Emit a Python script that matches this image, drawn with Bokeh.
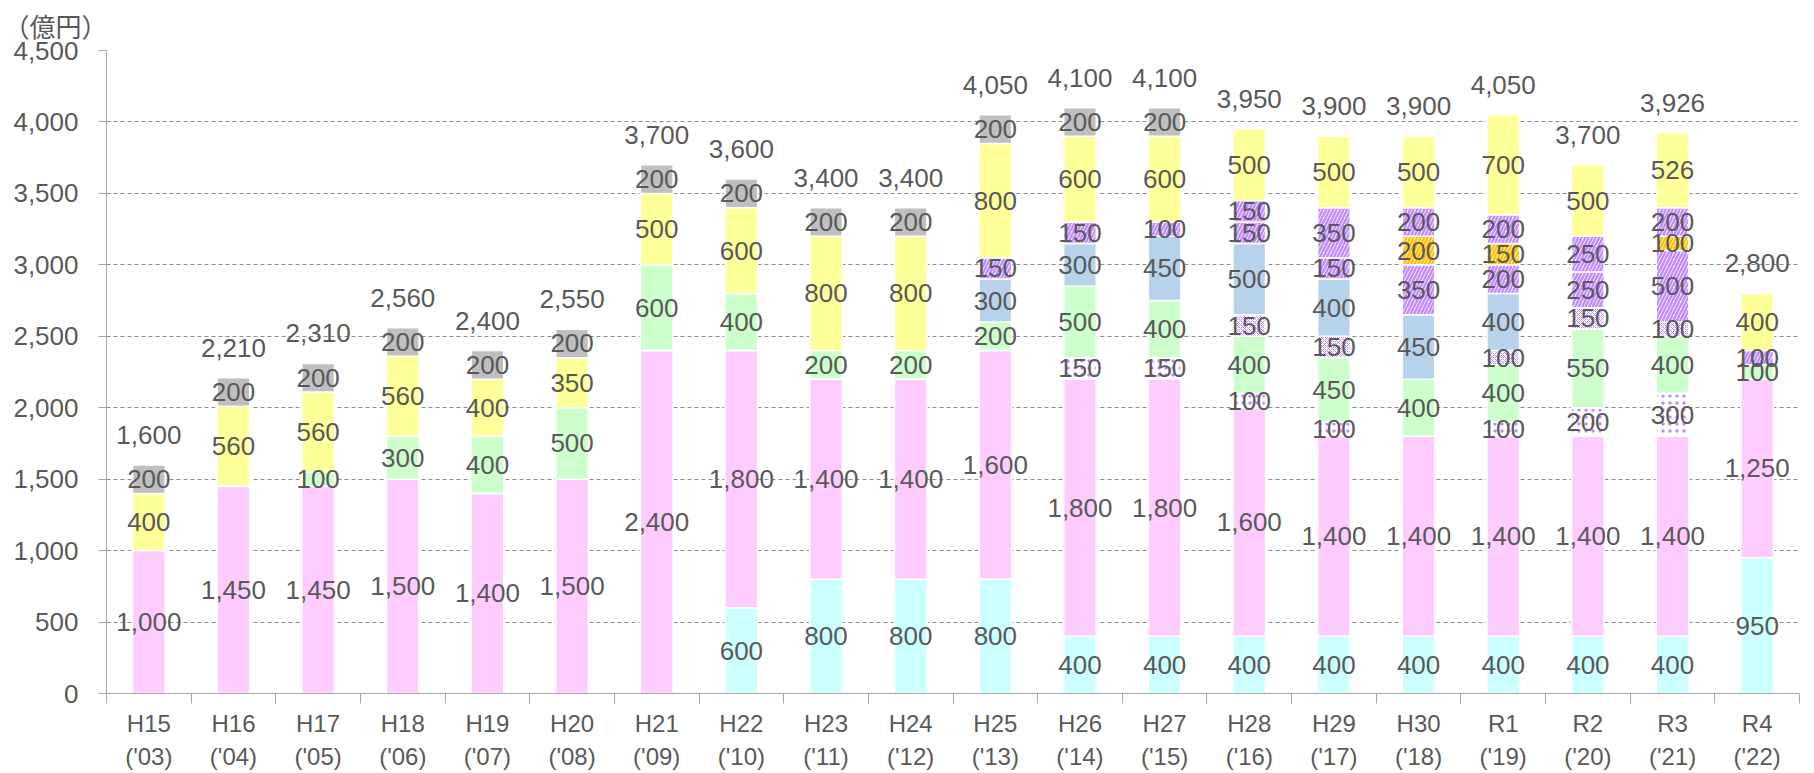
import numpy as np
from bokeh.plotting import figure
from bokeh.models import ColumnDataSource, Range1d, FixedTicker, NumeralTickFormatter, LabelSet
from bokeh.core.properties import value
from bokeh.embed import file_html
from bokeh.resources import INLINE

# ---------------- data ----------------
eras = ["H15", "H16", "H17", "H18", "H19", "H20", "H21", "H22", "H23", "H24",
        "H25", "H26", "H27", "H28", "H29", "H30", "R1", "R2", "R3", "R4"]
years = ["'03", "'04", "'05", "'06", "'07", "'08", "'09", "'10", "'11", "'12",
         "'13", "'14", "'15", "'16", "'17", "'18", "'19", "'20", "'21", "'22"]

cyan    = [0, 0, 0, 0, 0, 0, 0, 600, 800, 800, 800, 400, 400, 400, 400, 400, 400, 400, 400, 950]
pink    = [1000, 1450, 1450, 1500, 1400, 1500, 2400, 1800, 1400, 1400, 1600, 1800, 1800, 1600, 1400, 1400, 1400, 1400, 1400, 1250]
dots    = [0, 0, 0, 0, 0, 0, 0, 0, 0, 0, 0, 150, 150, 100, 100, 0, 100, 200, 300, 0]
green   = [0, 0, 100, 300, 400, 500, 600, 400, 200, 200, 200, 500, 400, 400, 450, 400, 400, 550, 400, 100]
checker = [0, 0, 0, 0, 0, 0, 0, 0, 0, 0, 0, 0, 0, 150, 150, 0, 100, 150, 100, 0]
blue    = [0, 0, 0, 0, 0, 0, 0, 0, 0, 0, 300, 300, 450, 500, 400, 450, 400, 0, 0, 0]
stripeA = [0, 0, 0, 0, 0, 0, 0, 0, 0, 0, 150, 150, 100, 150, 150, 350, 200, 250, 500, 100]
orange  = [0, 0, 0, 0, 0, 0, 0, 0, 0, 0, 0, 0, 0, 0, 0, 200, 150, 0, 100, 0]
stripeB = [0, 0, 0, 0, 0, 0, 0, 0, 0, 0, 0, 0, 0, 150, 350, 200, 200, 250, 200, 0]
yellow  = [400, 560, 560, 560, 400, 350, 500, 600, 800, 800, 800, 600, 600, 500, 500, 500, 700, 500, 526, 400]
gray    = [200, 200, 200, 200, 200, 200, 200, 200, 200, 200, 200, 200, 200, 0, 0, 0, 0, 0, 0, 0]

y_ticks = [0, 500, 1000, 1500, 2000, 2500, 3000, 3500, 4000, 4500]
unit_label = "（億円）"

# ---------------- styles ----------------
TXT = "#595959"
FONT = "Liberation Sans"
FS = "26px"
PURPLE = "#C38BFF"
AXC = "#A6A6A6"

series = [
    (cyan,    dict(fill_color="#CCFFFF")),
    (pink,    dict(fill_color="#FFCCFF")),
    (dots,    dict(fill_color="white", hatch_pattern="dot", hatch_color=PURPLE, hatch_scale=7, hatch_weight=1)),
    (green,   dict(fill_color="#CCFFCC")),
    (checker, dict(fill_color="white", hatch_pattern="x", hatch_color=PURPLE, hatch_scale=4, hatch_weight=1)),
    (blue,    dict(fill_color="#B7D2EB")),
    (stripeA, dict(fill_color="white", hatch_pattern="/", hatch_color=PURPLE, hatch_scale=7, hatch_weight=2.5)),
    (orange,  dict(fill_color="white", hatch_pattern="/", hatch_color="#FFC000", hatch_scale=7, hatch_weight=2.5)),
    (stripeB, dict(fill_color="white", hatch_pattern="/", hatch_color=PURPLE, hatch_scale=7, hatch_weight=2.5)),
    (yellow,  dict(fill_color="#FFFF99")),
    (gray,    dict(fill_color="#BFBFBF")),
]

n = len(eras)
xs = np.arange(n)
x_range = Range1d(-0.5, n - 0.5)

p = figure(width=1814, height=773, x_range=x_range, y_range=Range1d(y_ticks[0], y_ticks[-1]),
           output_backend="svg", toolbar_location=None, title=unit_label,
           min_border_left=106, min_border_right=15, min_border_top=50, min_border_bottom=79)
p.outline_line_color = None
p.background_fill_color = "white"

p.title.align = "left"
p.title.offset = -103
p.title.standoff = 16
p.title.text_font = "Liberation Sans, 'Noto Sans CJK JP'"
p.title.text_font_size = "26px"
p.title.text_font_style = "normal"
p.title.text_color = TXT

bottom = np.zeros(n)
lab_x, lab_y, lab_t = [], [], []
for vals, style in series:
    v = np.array(vals, dtype=float)
    top = bottom + v
    mask = v > 0
    src = ColumnDataSource(dict(x=xs[mask], bottom=bottom[mask], top=top[mask]))
    p.vbar(x="x", bottom="bottom", top="top", width=0.385, source=src,
           line_color="white", line_width=1.5, **style)
    for i in np.where(mask)[0]:
        lab_x.append(xs[i])
        lab_y.append((bottom[i] + top[i]) / 2)
        lab_t.append(f"{int(v[i]):,}")
    bottom = top

totals = bottom
seg_src = ColumnDataSource(dict(x=lab_x, y=lab_y, t=lab_t))
p.add_layout(LabelSet(x="x", y="y", text="t", source=seg_src, text_align="center",
                      text_baseline="middle", text_color=TXT, text_font=value(FONT),
                      text_font_size=value(FS)))
tot_src = ColumnDataSource(dict(x=xs, y=totals, t=[f"{int(t):,}" for t in totals]))
p.add_layout(LabelSet(x="x", y="y", text="t", source=tot_src, text_align="center",
                      text_baseline="middle", y_offset=30, text_color=TXT, text_font=value(FONT),
                      text_font_size=value(FS)))

# axes
p.xgrid.grid_line_color = None
p.ygrid.grid_line_color = "#8C8C8C"
p.ygrid.grid_line_dash = "4 3"
p.ygrid.grid_line_width = 1

yax = p.yaxis[0]
yax.ticker = FixedTicker(ticks=y_ticks)
yax.formatter = NumeralTickFormatter(format="0,0")
yax.axis_line_color = AXC
yax.major_tick_line_color = AXC
yax.major_tick_out = 8
yax.major_tick_in = 0
yax.minor_tick_line_color = None
yax.major_label_standoff = 20
yax.major_label_text_color = TXT
yax.major_label_text_font = FONT
yax.major_label_text_font_size = FS

xax = p.xaxis[0]
xax.ticker = FixedTicker(ticks=list(xs), minor_ticks=list(np.arange(n + 1) - 0.5))
xax.major_label_overrides = {int(i): f"{e}\n({y})" for i, e, y in zip(xs, eras, years)}
xax.axis_line_color = AXC
xax.major_tick_out = 0
xax.major_tick_in = 0
xax.major_tick_line_color = None
xax.minor_tick_line_color = AXC
xax.minor_tick_out = 10
xax.minor_tick_in = 0
xax.major_label_standoff = 6
xax.major_label_text_color = TXT
xax.major_label_text_font = FONT
xax.major_label_text_font_size = "24px"
xax.major_label_text_line_height = 1.25

open("out.html", "w").write(file_html(p, INLINE))
